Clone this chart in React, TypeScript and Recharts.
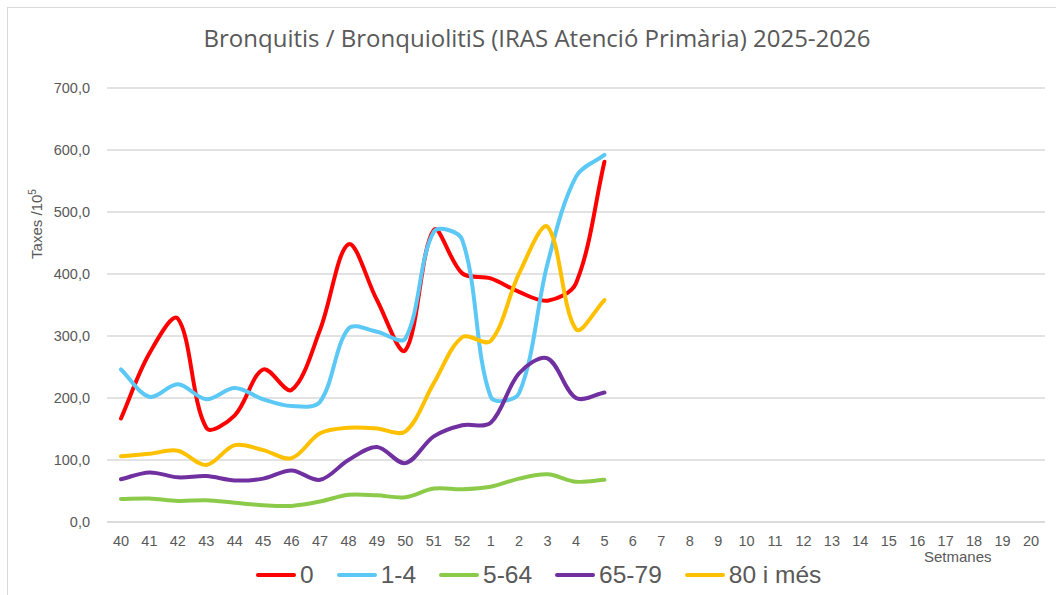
import React from "react";
import { LineChart, Line, XAxis, YAxis, CartesianGrid } from "recharts";

const weeks = ["40","41","42","43","44","45","46","47","48","49","50","51","52","1","2","3","4","5","6","7","8","9","10","11","12","13","14","15","16","17","18","19","20"];
const age0 = [167, 272, 328, 152, 172, 246, 213, 310, 448, 358, 277, 471, 401, 393, 371, 357, 385, 581];
const age1to4 = [246, 202, 222, 198, 216, 198, 187, 194, 312, 307, 296, 468, 455, 202, 208, 417, 557, 592];
const age5to64 = [37, 38, 34, 35, 31, 27, 26, 33, 44, 43, 40, 54, 53, 57, 70, 77, 65, 68];
const age65to79 = [69, 80, 72, 74, 67, 70, 83, 68, 100, 121, 95, 138, 156, 160, 240, 264, 200, 209];
const age80plus = [106, 110, 115, 92, 124, 116, 103, 143, 152, 151, 146, 224, 298, 292, 401, 476, 311, 358];
const yTicks = [0, 100, 200, 300, 400, 500, 600, 700];

const seriesDefs = [
  { key: "s0", name: "0", values: age0, color: "#FF0000" },
  { key: "s1", name: "1-4", values: age1to4, color: "#5BC8F5" },
  { key: "s2", name: "5-64", values: age5to64, color: "#8CCB4A" },
  { key: "s3", name: "65-79", values: age65to79, color: "#7030A0" },
  { key: "s4", name: "80 i més", values: age80plus, color: "#FFC000" },
];

const data = weeks.map((w, i) => {
  const row: any = { week: w };
  seriesDefs.forEach((s) => {
    row[s.key] = i < s.values.length ? s.values[i] : null;
  });
  return row;
});

// Excel-like smoothing: bezier with tangents weighted by segment lengths
function excelCurve(context: any) {
  let pts: number[][] = [];
  const dist = (a: number[], b: number[]) => Math.hypot(b[0] - a[0], b[1] - a[1]) || 1e-6;
  return {
    areaStart() {},
    areaEnd() {},
    lineStart() {
      pts = [];
    },
    lineEnd() {
      const n = pts.length;
      if (n === 0) return;
      context.moveTo(pts[0][0], pts[0][1]);
      if (n === 1) return;
      for (let i = 0; i < n - 1; i++) {
        const p0 = pts[i - 1] || pts[i];
        const p1 = pts[i];
        const p2 = pts[i + 1];
        const p3 = pts[i + 2] || pts[i + 1];
        const d01 = i > 0 ? dist(p0, p1) : 0;
        const d12 = dist(p1, p2);
        const d23 = i + 2 < n ? dist(p2, p3) : 0;
        const f1 = d12 / (d01 + d12) / 3;
        const f2 = d12 / (d12 + d23) / 3;
        const c1x = p1[0] + (p2[0] - p0[0]) * f1;
        const c1y = p1[1] + (p2[1] - p0[1]) * f1;
        const c2x = p2[0] - (p3[0] - p1[0]) * f2;
        const c2y = p2[1] - (p3[1] - p1[1]) * f2;
        context.bezierCurveTo(c1x, c1y, c2x, c2y, p2[0], p2[1]);
      }
    },
    point(x: number, y: number) {
      pts.push([+x, +y]);
    },
  };
}

const TEXT = "#595959";
const FONT = "'Liberation Sans', Arial, sans-serif";

export default function App() {
  return (
    <div style={{ position: "fixed", left: 0, top: 0, width: 1056, height: 595, background: "#fff", overflow: "hidden", fontFamily: FONT }}>
      <div style={{ position: "absolute", left: 7, top: 7, width: 1060, height: 600, border: "1.5px solid #d9d9d9", boxSizing: "border-box" }} />
      <div style={{ position: "absolute", left: 0, top: 21, width: 1074, textAlign: "center", fontSize: 24, color: TEXT, fontFamily: "'Open Sans', sans-serif" }}>
        Bronquitis / BronquiolitiS (IRAS Atenció Primària) 2025-2026
      </div>
      <div style={{ position: "absolute", left: 0, top: 0 }}>
        <LineChart width={1056} height={595} data={data} margin={{ top: 88, right: 11, bottom: 43, left: 47 }}>
          <CartesianGrid vertical={false} stroke="#d9d9d9" strokeWidth={1.3} />
          <XAxis
            dataKey="week"
            interval={0}
            padding={{ left: 14, right: 14 }}
            axisLine={{ stroke: "#d9d9d9", strokeWidth: 1.3 }}
            tickLine={false}
            tickSize={10}
            tickMargin={4}
            height={30}
            tick={{ fill: TEXT, fontSize: 14.5, fontFamily: FONT }}
          />
          <YAxis
            domain={[0, 700]}
            ticks={yTicks}
            interval={0}
            width={60}
            axisLine={false}
            tickLine={false}
            tickSize={15}
            tickMargin={2}
            tickFormatter={(v: number) => v.toFixed(1).replace(".", ",")}
            tick={{ fill: TEXT, fontSize: 14.5, fontFamily: FONT }}
          />
          {seriesDefs.map((s) => (
            <Line
              key={s.key}
              dataKey={s.key}
              name={s.name}
              type={excelCurve as any}
              stroke={s.color}
              strokeWidth={4}
              dot={false}
              activeDot={false}
              isAnimationActive={false}
              strokeLinecap="round"
            />
          ))}
        </LineChart>
      </div>
      <div style={{ position: "absolute", left: 36, top: 224, transform: "translate(-50%, -50%) rotate(-90deg)", transformOrigin: "center", whiteSpace: "nowrap", fontSize: 15, color: TEXT }}>
        Taxes /10<sup style={{ fontSize: 10 }}>5</sup>
      </div>
      <div style={{ position: "absolute", left: 924, top: 549, fontSize: 15, color: TEXT, lineHeight: "16px" }}>Setmanes</div>
      <div style={{ position: "absolute", left: 256, top: 561, display: "flex", alignItems: "center", fontSize: 24.5, color: TEXT }}>
        {seriesDefs.map((s, i) => (
          <div key={s.key} style={{ display: "flex", alignItems: "center", marginRight: i < seriesDefs.length - 1 ? 23 : 0 }}>
            <div style={{ width: 40, height: 4, borderRadius: 2, background: s.color, marginRight: 4 }} />
            <span>{s.name}</span>
          </div>
        ))}
      </div>
    </div>
  );
}
